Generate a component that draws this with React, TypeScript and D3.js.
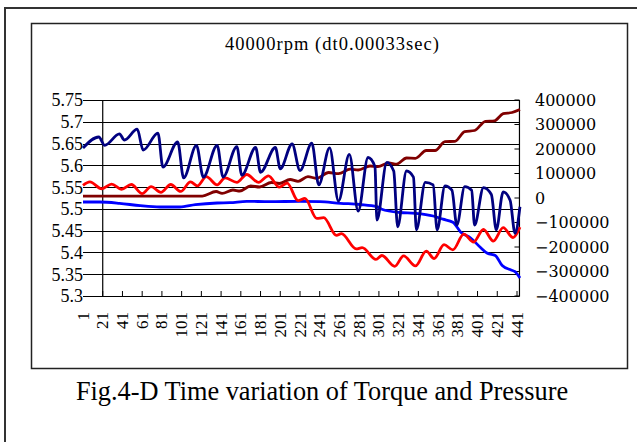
import * as d3 from 'd3';

// axis ticks and labels
const leftTicks = [5.3, 5.35, 5.4, 5.45, 5.5, 5.55, 5.6, 5.65, 5.7, 5.75];
const leftTickLabels = ['5.3', '5.35', '5.4', '5.45', '5.5', '5.55', '5.6', '5.65', '5.7', '5.75'];
const rightTicks = [-400000, -300000, -200000, -100000, 0, 100000, 200000, 300000, 400000];
const rightTickLabels = ['−400000', '−300000', '−200000', '−100000', '0', '100000', '200000', '300000', '400000'];
const categoryTicks = [1, 21, 41, 61, 81, 101, 121, 141, 161, 181, 201, 221, 241, 261, 281, 301, 321, 341, 361, 381, 401, 421, 441];

const titleText = '40000rpm (dt0.00033sec)';
const captionText = 'Fig.4-D Time variation of Torque and Pressure';

// [step, value] pairs (left axis)
const navySeries: [number, number][] = [
  [1, 5.64], [17, 5.665], [23, 5.646], [38, 5.672], [43, 5.658], [56, 5.683], [62, 5.635],
  [77, 5.674], [82, 5.596], [97, 5.654], [103, 5.571], [116, 5.646], [123, 5.573], [137, 5.646],
  [143, 5.573], [157, 5.643], [162, 5.577], [176, 5.641], [181, 5.584], [196, 5.641], [201, 5.592],
  [213, 5.649], [221, 5.588], [233, 5.651], [240, 5.555], [251, 5.64], [260, 5.518], [271, 5.625],
  [280, 5.495], [290, 5.618], [297, 5.597], [299, 5.474], [309, 5.607], [316, 5.587], [320, 5.459],
  [329, 5.587], [336, 5.573], [339, 5.452], [348, 5.561], [356, 5.555], [360, 5.452], [368, 5.553],
  [375, 5.543], [380, 5.463], [388, 5.551], [395, 5.543], [398, 5.463], [407, 5.549], [415, 5.533],
  [420, 5.452], [427, 5.539], [434, 5.52], [439, 5.444], [444, 5.505],
];

const redSeries: [number, number][] = [
  [1, 5.554], [8, 5.562], [20, 5.546], [30, 5.557], [40, 5.545], [50, 5.556], [61, 5.535],
  [70, 5.551], [80, 5.538], [90, 5.556], [100, 5.54], [110, 5.562], [117, 5.553], [126, 5.574],
  [137, 5.555], [145, 5.571], [157, 5.561], [167, 5.579], [179, 5.561], [189, 5.576], [200, 5.55],
  [208, 5.559], [219, 5.519], [226, 5.524], [238, 5.478], [245, 5.48], [258, 5.439], [263, 5.443],
  [278, 5.408], [284, 5.411], [298, 5.384], [304, 5.393], [317, 5.368], [326, 5.392], [338, 5.369],
  [349, 5.403], [357, 5.386], [367, 5.418], [376, 5.406], [387, 5.442], [397, 5.424], [407, 5.453],
  [417, 5.426], [427, 5.457], [437, 5.434], [444, 5.458],
];

// [step, value] pairs (right axis)
const brownSeries: [number, number][] = [
  [1, 8000], [60, 8000], [122, 8000], [136, 26500], [142, 19200], [153, 32600], [160, 28500],
  [171, 49000], [180, 44900], [192, 63300], [200, 59200], [211, 75500], [219, 68200], [229, 86900],
  [238, 80400], [250, 104000], [260, 99200], [272, 117500], [280, 114300], [292, 130600],
  [300, 127800], [311, 142900], [319, 138000], [329, 163300], [338, 162000], [349, 193900],
  [358, 193900], [368, 229800], [378, 231400], [388, 270600], [398, 275500], [409, 313000],
  [418, 315100], [427, 344000], [436, 349000], [444, 361200],
];

const blueSeries: [number, number][] = [
  [1, -16300], [18, -16300], [38, -21600], [59, -31400], [79, -36700], [99, -36700], [115, -27300],
  [137, -20400], [150, -19200], [167, -13500], [190, -15100], [221, -13500], [241, -15100],
  [262, -21600], [282, -26500], [299, -35500], [304, -46100], [322, -59200], [338, -62400],
  [356, -73500], [366, -86500], [376, -98800], [384, -139600], [394, -163300], [404, -202000],
  [411, -225700], [419, -234700], [426, -275500], [435, -293900], [439, -300800], [444, -326500],
];

const W = 637;
const H = 442;
const serif = '"Liberation Serif", "Times New Roman", serif';

export default function App() {
  const x = d3.scaleLinear().domain([1, 441]).range([83, 517]);
  const yL = d3.scaleLinear().domain([5.3, 5.75]).range([296, 100]);
  const yR = d3.scaleLinear().domain([-400000, 400000]).range([296, 100]);
  const plotLeft = x(1);
  const plotRight = x(443.5);
  const axisX = x(21);

  const lineL = d3
    .line<[number, number]>()
    .x(d => x(d[0]))
    .y(d => yL(d[1]))
    .curve(d3.curveMonotoneX);
  const lineR = d3
    .line<[number, number]>()
    .x(d => x(d[0]))
    .y(d => yR(d[1]))
    .curve(d3.curveMonotoneX);

  return (
    <svg
      width={W}
      height={H}
      style={{ position: 'absolute', left: 0, top: 0, background: '#fff' }}
    >
      <rect x={0} y={0} width={W} height={H} fill="#fff" />
      {/* outer frame */}
      <path d={`M5,${H} V8 H${W}`} fill="none" stroke="#333" strokeWidth={2} />
      {/* chart box */}
      <rect x={31.5} y={23.5} width={596} height={345} fill="#fff" stroke="#222" strokeWidth={1.5} />

      <text
        x={332}
        y={50}
        textAnchor="middle"
        fontFamily={serif}
        fontSize={18.5}
        textLength={214}
        lengthAdjust="spacing"
      >
        {titleText}
      </text>

      {/* gridlines */}
      {leftTicks.map(t => (
        <line
          key={t}
          x1={plotLeft}
          x2={plotRight}
          y1={Math.round(yL(t)) + 0.5}
          y2={Math.round(yL(t)) + 0.5}
          stroke="#000"
          strokeWidth={1}
        />
      ))}

      {/* vertical (left) axis line */}
      <line x1={axisX} x2={axisX} y1={yL(5.75)} y2={yL(5.3) + 0.5} stroke="#000" strokeWidth={1.2} />
      {/* right axis */}
      <line x1={plotRight} x2={plotRight} y1={yR(400000)} y2={yR(-400000) + 0.5} stroke="#000" strokeWidth={1.2} />
      {rightTicks.map(t => (
        <line key={t} x1={plotRight - 5} x2={plotRight} y1={yR(t)} y2={yR(t)} stroke="#000" strokeWidth={1} />
      ))}
      {/* category ticks */}
      {categoryTicks.slice(1).map(c => (
        <line key={c} x1={x(c)} x2={x(c)} y1={291} y2={296} stroke="#000" strokeWidth={1} />
      ))}

      {/* series */}
      <path d={lineR(brownSeries) ?? ''} fill="none" stroke="#800000" strokeWidth={2.8} />
      <path d={lineR(blueSeries) ?? ''} fill="none" stroke="#0000ff" strokeWidth={2.8} />
      <path d={lineL(redSeries) ?? ''} fill="none" stroke="#ff0000" strokeWidth={2.8} />
      <path d={lineL(navySeries) ?? ''} fill="none" stroke="#000080" strokeWidth={2.8} />

      {/* left labels */}
      {leftTicks.map((t, i) => (
        <text
          key={t}
          x={83}
          y={yL(t)}
          dy="0.36em"
          textAnchor="end"
          fontFamily={serif}
          fontSize={18}
        >
          {leftTickLabels[i]}
        </text>
      ))}
      {/* right labels */}
      {rightTicks.map((t, i) => (
        <text
          key={t}
          x={535}
          y={yR(t)}
          dy="0.36em"
          fontFamily='"DejaVu Serif", serif'
          fontSize={16}
        >
          {rightTickLabels[i]}
        </text>
      ))}
      {/* category labels */}
      {categoryTicks.map(c => (
        <text
          key={c}
          transform={`translate(${x(c) + 5.5},312) rotate(-90)`}
          textAnchor="end"
          fontFamily={serif}
          fontSize={17}
        >
          {String(c)}
        </text>
      ))}

      <text x={322} y={400} textAnchor="middle" fontFamily={serif} fontSize={26.3}>
        {captionText}
      </text>
    </svg>
  );
}
